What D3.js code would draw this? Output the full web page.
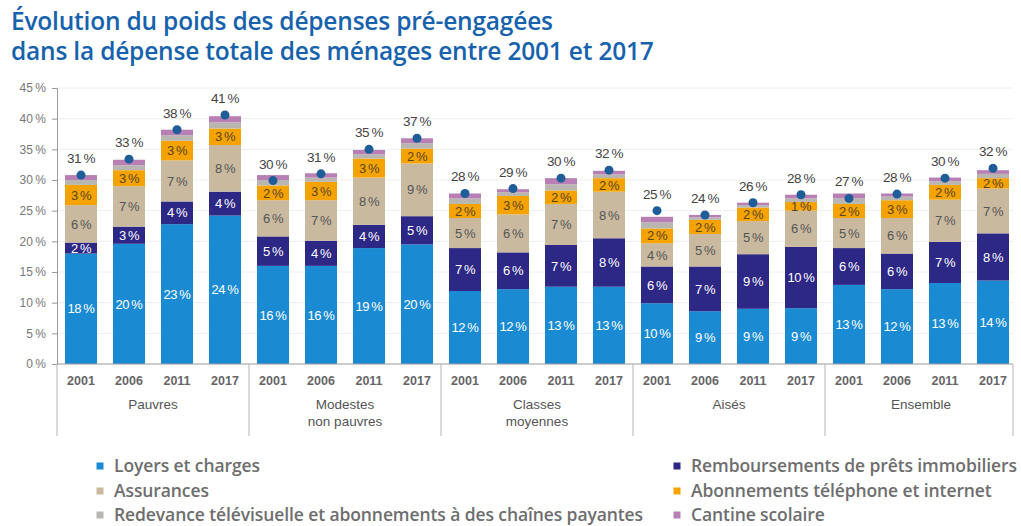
<!DOCTYPE html>
<html>
<head>
<meta charset="utf-8">
<script src="https://cdn.jsdelivr.net/npm/d3@7"></script>
<style>
  body { margin: 0; background: #fff; }
  svg { display: block; }
</style>
</head>
<body>
<svg id="chart" width="1021" height="526"></svg>
<script>
const groups = [["Pauvres"], ["Modestes", "non pauvres"], ["Classes", "moyennes"], ["Aisés"], ["Ensemble"]];
const years = ["2001", "2006", "2011", "2017"];
const seriesNames = [
  "Loyers et charges",
  "Remboursements de prêts immobiliers",
  "Assurances",
  "Abonnements téléphone et internet",
  "Redevance télévisuelle et abonnements à des chaînes payantes",
  "Cantine scolaire",
];
const yTicks = [0, 5, 10, 15, 20, 25, 30, 35, 40, 45];

// one value per bar, group by group (2001, 2006, 2011, 2017)
const loyers = [18.0, 19.6, 22.8, 24.2, 16.0, 16.0, 18.9, 19.5, 11.9, 12.2, 12.6, 12.6, 9.9, 8.6, 9.0, 9.1, 12.9, 12.2, 13.2, 13.6];
const remboursements = [1.8, 2.8, 3.7, 3.9, 4.8, 4.1, 3.8, 4.6, 7.0, 6.0, 6.8, 7.9, 6.0, 7.3, 8.9, 10.0, 6.0, 5.8, 6.7, 7.7];
const assurances = [6.1, 6.6, 6.7, 7.6, 5.9, 6.6, 7.7, 8.6, 4.9, 6.2, 6.7, 7.6, 3.8, 5.3, 5.4, 5.9, 4.9, 5.8, 6.9, 7.3];
const abonnements = [3.3, 2.6, 3.2, 2.7, 2.4, 3.0, 3.1, 2.4, 2.3, 3.0, 2.2, 2.2, 2.4, 2.3, 2.2, 1.4, 2.3, 2.9, 2.4, 1.7];
const redevance = [0.8, 0.8, 0.9, 1.0, 0.9, 0.7, 0.7, 0.9, 0.9, 0.6, 1.0, 0.6, 1.0, 0.4, 0.4, 0.6, 0.9, 0.6, 0.6, 0.7];
const cantine = [0.8, 0.9, 0.9, 1.0, 0.8, 0.7, 0.7, 0.8, 0.8, 0.5, 1.0, 0.6, 0.9, 0.4, 0.4, 0.6, 0.8, 0.5, 0.6, 0.6];
const totals = [30.8, 33.4, 38.2, 40.6, 29.9, 31.0, 35.0, 36.8, 27.8, 28.6, 30.3, 31.6, 25.0, 24.3, 26.3, 27.6, 27.0, 27.7, 30.3, 31.9];

const seriesValues = [loyers, remboursements, assurances, abonnements, redevance, cantine];
const colors = ["#1a8bd3", "#2d2785", "#c9b99f", "#f5a300", "#b9b6b1", "#b77fb3"];
const labelColors = ["#fff", "#fff", "#555", "#5a4326", null, null];

const margin = { left: 57, right: 1017, top: 88, bottom: 364 };
const pct = (v) => v + "\u2009%";

const rows = [];
groups.forEach((g, gi) => {
  years.forEach((yr, yi) => {
    const i = gi * years.length + yi;
    const row = { group: gi, year: yr, total: totals[i] };
    seriesNames.forEach((s, si) => (row[si] = seriesValues[si][i]));
    rows.push(row);
  });
});

const svg = d3.select("#chart");

const x0 = d3.scaleBand().domain(d3.range(groups.length)).range([margin.left, margin.right]);
const x1 = d3.scaleBand().domain(years).range([0, x0.bandwidth()]).paddingInner(1 / 3).paddingOuter(1 / 6);
const y = d3.scaleLinear().domain([0, 45]).range([margin.bottom, margin.top]);

// title
svg.append("g")
  .selectAll("text")
  .data(["Évolution du poids des dépenses pré-engagées", "dans la dépense totale des ménages entre 2001 et 2017"])
  .join("text")
  .attr("x", 11)
  .attr("y", (d, i) => 30 + i * 30)
  .attr("fill", "#1762ad")
  .attr("font-family", "'Open Sans', sans-serif")
  .attr("font-weight", 600)
  .attr("font-size", "24.5px")
  .attr("letter-spacing", "-0.2px")
  .text((d) => d);

// grid
svg.append("g")
  .selectAll("line")
  .data(yTicks.slice(1))
  .join("line")
  .attr("x1", margin.left)
  .attr("x2", margin.right - 4)
  .attr("y1", (d) => y(d))
  .attr("y2", (d) => y(d))
  .attr("stroke", "#eeeeee");

// y axis
const yAxis = svg.append("g")
  .attr("transform", `translate(${margin.left},0)`)
  .call(d3.axisLeft(y).tickValues(yTicks).tickSize(5).tickPadding(6).tickFormat(pct));
yAxis.select(".domain").attr("stroke", "#9a9a9a");
yAxis.selectAll(".tick line").attr("stroke", "#9a9a9a");
yAxis.selectAll("text")
  .attr("fill", "#777")
  .attr("font-family", "'Liberation Sans', Arial, sans-serif")
  .attr("font-size", "12px");

// stacked bars
const stack = d3.stack().keys(d3.range(seriesNames.length));
const layers = stack(rows);

const barX = (d) => x0(d.data.group) + x1(d.data.year);

svg.append("g")
  .selectAll("g")
  .data(layers)
  .join("g")
  .attr("fill", (d, i) => colors[i])
  .selectAll("rect")
  .data((d) => d)
  .join("rect")
  .attr("x", barX)
  .attr("width", x1.bandwidth())
  .attr("y", (d) => y(d[1]))
  .attr("height", (d) => y(d[0]) - y(d[1]));

// labels inside segments
layers.slice(0, 4).forEach((layer, li) => {
  svg.append("g")
    .selectAll("text")
    .data(layer)
    .join("text")
    .attr("x", (d) => barX(d) + x1.bandwidth() / 2)
    .attr("y", (d) => y((d[0] + d[1]) / 2))
    .attr("dy", "0.36em")
    .attr("text-anchor", "middle")
    .attr("fill", labelColors[li])
    .attr("font-family", "'Liberation Sans', Arial, sans-serif")
    .attr("font-size", "13px")
    .attr("letter-spacing", "-0.4px")
    .text((d) => pct(Math.round(d[1] - d[0])));
});

// total dots and labels
const tot = svg.append("g");
tot.selectAll("circle")
  .data(rows)
  .join("circle")
  .attr("cx", (d) => x0(d.group) + x1(d.year) + x1.bandwidth() / 2)
  .attr("cy", (d) => y(d.total))
  .attr("r", 4.5)
  .attr("fill", "#1f5d98");
tot.selectAll("text")
  .data(rows)
  .join("text")
  .attr("x", (d) => x0(d.group) + x1(d.year) + x1.bandwidth() / 2)
  .attr("y", (d) => y(d.total) - 12)
  .attr("text-anchor", "middle")
  .attr("fill", "#444")
  .attr("font-family", "'Liberation Sans', Arial, sans-serif")
  .attr("font-size", "13.5px")
  .attr("letter-spacing", "-0.4px")
  .text((d) => pct(Math.round(d.total)));

// x axis
svg.append("line")
  .attr("x1", margin.left)
  .attr("x2", margin.right - 4)
  .attr("y1", margin.bottom)
  .attr("y2", margin.bottom)
  .attr("stroke", "#9a9a9a");

svg.append("g")
  .selectAll("line")
  .data(d3.range(groups.length + 1))
  .join("line")
  .attr("x1", (d) => (d < groups.length ? x0(d) : margin.right - 4))
  .attr("x2", (d) => (d < groups.length ? x0(d) : margin.right - 4))
  .attr("y1", margin.bottom)
  .attr("y2", 436)
  .attr("stroke", "#b5b5b5");

svg.append("g")
  .selectAll("text")
  .data(rows)
  .join("text")
  .attr("x", (d) => x0(d.group) + x1(d.year) + x1.bandwidth() / 2)
  .attr("y", 385)
  .attr("text-anchor", "middle")
  .attr("fill", "#666")
  .attr("font-family", "'Liberation Sans Narrow', 'Liberation Sans', Arial, sans-serif")
  .attr("font-weight", "bold")
  .attr("font-size", "12.5px")
  .text((d) => d.year);

svg.append("g")
  .selectAll("text")
  .data(groups)
  .join("text")
  .attr("x", (d, i) => x0(i) + x0.bandwidth() / 2)
  .attr("y", 409)
  .attr("text-anchor", "middle")
  .attr("fill", "#555")
  .attr("font-family", "'Liberation Sans Narrow', 'Liberation Sans', Arial, sans-serif")
  .attr("font-size", "13.5px")
  .selectAll("tspan")
  .data((d) => d)
  .join("tspan")
  .attr("x", function () { return d3.select(this.parentNode).attr("x"); })
  .attr("dy", (d, i) => (i === 0 ? 0 : 17))
  .text((d) => d);

// legend
const legendPos = [[100, 466], [677, 466], [100, 491], [677, 491], [100, 515], [677, 515]];
const legend = svg.append("g")
  .selectAll("g")
  .data(seriesNames)
  .join("g")
  .attr("transform", (d, i) => `translate(${legendPos[i][0]},${legendPos[i][1]})`);
legend.append("rect")
  .attr("x", -3.5)
  .attr("y", -3.5)
  .attr("width", 7)
  .attr("height", 7)
  .attr("fill", (d, i) => colors[i]);
legend.append("text")
  .attr("x", 14)
  .attr("dy", "0.36em")
  .attr("fill", "#6e6e6e")
  .attr("font-family", "'Open Sans', sans-serif")
  .attr("font-weight", 600)
  .attr("font-size", "17.5px")
  .attr("letter-spacing", "-0.1px")
  .text((d) => d);
</script>
</body>
</html>
